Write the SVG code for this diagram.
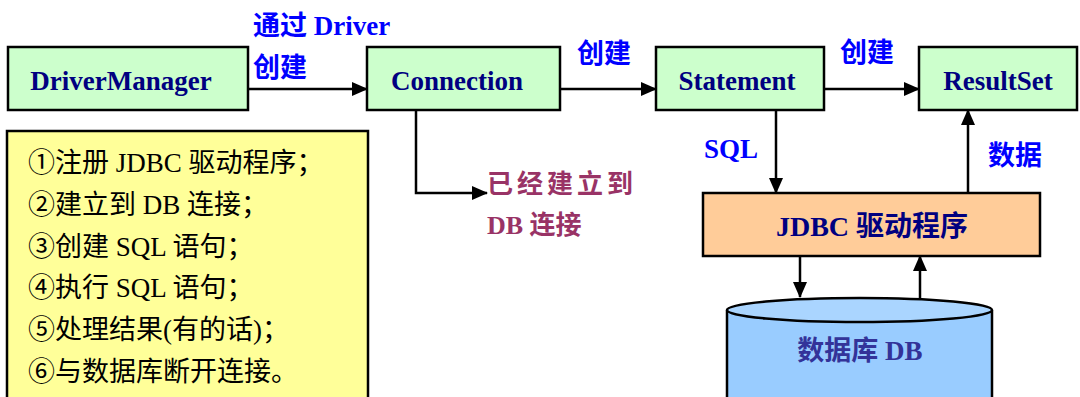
<svg xmlns="http://www.w3.org/2000/svg" width="1080" height="397" viewBox="0 0 1080 397">
<defs>
<marker id="ah" markerUnits="userSpaceOnUse" markerWidth="16" markerHeight="14" refX="15" refY="7" orient="auto">
<path d="M0,0 L16,7 L0,14 Z" fill="#000"/>
</marker>
<style>
.box{stroke:#000;stroke-width:2.5}
.g{fill:#ccffcc}
.lbl{font-family:"Liberation Serif","Noto Sans CJK SC",serif;font-weight:bold;font-size:27px;fill:#000080;text-anchor:middle}
.blue{font-family:"Liberation Serif","Noto Sans CJK SC",serif;font-weight:bold;font-size:27px;fill:#0000ff}
.mar{font-family:"Liberation Serif","Noto Sans CJK SC",serif;font-weight:bold;font-size:26px;fill:#993366}
.step{font-family:"Liberation Serif","Noto Sans CJK SC",serif;font-size:27px;fill:#000}
.ln{stroke:#000;stroke-width:2.5;fill:none}
</style>
</defs>
<rect width="1080" height="397" fill="#fff"/>

<g id="DriverManager"><rect class="box g" x="8" y="47" width="240" height="63"/><text class="lbl" x="121" y="90">DriverManager</text></g>
<g id="Connection"><rect class="box g" x="367" y="47" width="193" height="63"/><text class="lbl" x="457" y="90">Connection</text></g>
<g id="Statement"><rect class="box g" x="656" y="47" width="168" height="63"/><text class="lbl" x="737" y="90">Statement</text></g>
<g id="ResultSet"><rect class="box g" x="919" y="47" width="158" height="63"/><text class="lbl" x="998" y="90">ResultSet</text></g>
<g id="JDBC"><rect class="box" fill="#ffcc99" x="703" y="193" width="337" height="63"/><text class="lbl" x="872" y="236" style="font-size:28px">JDBC 驱动程序</text></g>
<g id="DB">
<path d="M727,310 V400 H992 V310" fill="#99ccff" stroke="#000" stroke-width="2.5"/>
<ellipse cx="859.5" cy="310" rx="132.5" ry="12" fill="#aad5ff" stroke="#000" stroke-width="2.5"/>
<text x="860" y="360" text-anchor="middle" font-family="Liberation Serif,Noto Sans CJK SC,serif" font-weight="bold" font-size="27" fill="#333399">数据库 DB</text>
</g>
<g id="steps">
<rect x="7" y="131" width="361" height="280" fill="#ffff99" stroke="#000" stroke-width="2.5"/>
<text class="step" x="28" y="172">①注册 JDBC 驱动程序；</text>
<text class="step" x="28" y="214">②建立到 DB 连接；</text>
<text class="step" x="28" y="256">③创建 SQL 语句；</text>
<text class="step" x="28" y="297">④执行 SQL 语句；</text>
<text class="step" x="28" y="339">⑤处理结果(有的话)；</text>
<text class="step" x="28" y="381">⑥与数据库断开连接。</text>
</g>
<g id="connectors">
<line class="ln" x1="248" y1="89" x2="367" y2="89" marker-end="url(#ah)"/>
<line class="ln" x1="560" y1="89" x2="656" y2="89" marker-end="url(#ah)"/>
<line class="ln" x1="824" y1="89" x2="919" y2="89" marker-end="url(#ah)"/>
<polyline class="ln" points="416,110 416,193 487,193" marker-end="url(#ah)"/>
<line class="ln" x1="776" y1="110" x2="776" y2="193" marker-end="url(#ah)"/>
<line class="ln" x1="968" y1="193" x2="968" y2="110" marker-end="url(#ah)"/>
<line class="ln" x1="800" y1="256" x2="800" y2="297" marker-end="url(#ah)"/>
<line class="ln" x1="920" y1="298" x2="920" y2="256" marker-end="url(#ah)"/>
</g>
<g id="labels">
<text class="blue" x="253" y="35">通过 Driver</text>
<text class="blue" x="253" y="77">创建</text>
<text class="blue" x="577" y="63">创建</text>
<text class="blue" x="840" y="62">创建</text>
<text class="blue" x="704" y="158">SQL</text>
<text class="blue" x="988" y="165">数据</text>
<text class="mar" x="487" y="193" letter-spacing="4">已经建立到</text>
<text class="mar" x="487" y="234">DB 连接</text>
</g>
</svg>
